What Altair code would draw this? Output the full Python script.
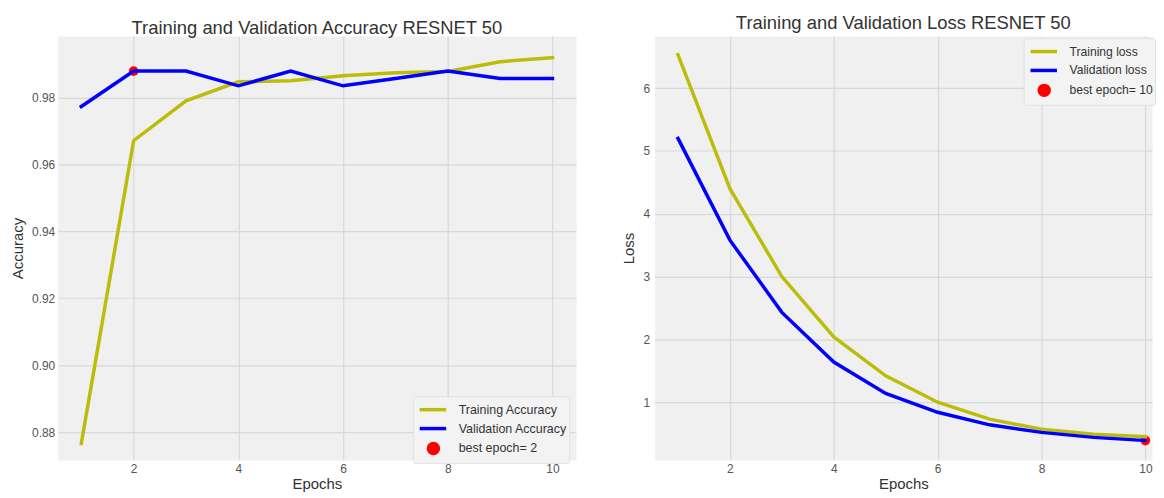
import altair as alt
import pandas as pd

# ---- data ----
epochs = list(range(1, 11))
train_acc = [0.8766, 0.9671, 0.9790, 0.9847, 0.9850, 0.9865, 0.9874, 0.9878, 0.9907, 0.9919]
val_acc = [0.9773, 0.9879, 0.9879, 0.9835, 0.9879, 0.9835, 0.9857, 0.9879, 0.9857, 0.9857]
train_loss = [6.53, 4.40, 3.00, 2.04, 1.42, 1.00, 0.73, 0.57, 0.49, 0.45]
val_loss = [5.20, 3.58, 2.43, 1.64, 1.14, 0.84, 0.64, 0.52, 0.44, 0.39]
best_acc_epoch = 2
best_loss_epoch = 10
acc_labels = ["Training Accuracy", "Validation Accuracy", "best epoch= 2"]
loss_labels = ["Training loss", "Validation loss", "best epoch= 10"]
acc_ticks = [0.88, 0.90, 0.92, 0.94, 0.96, 0.98]
loss_ticks = [1, 2, 3, 4, 5, 6]
epoch_ticks = [2, 4, 6, 8, 10]

YELLOW = "#bcbd0a"
BLUE = "#0000ff"
RED = "#ff0000"
FONT = "Liberation Sans"

LINE_PATH = "M-0.7,0H2.1"
CIRCLE_PATH = "M0.224,0A0.526,0.526,0,1,1,1.276,0A0.526,0.526,0,1,1,0.224,0Z"


def make_df(train, val, best_epoch, labels):
    rows = []
    for e, t, v in zip(epochs, train, val):
        rows.append({"epoch": e, "value": t, "series": labels[0]})
        rows.append({"epoch": e, "value": v, "series": labels[1]})
    rows.append({"epoch": best_epoch, "value": val[best_epoch - 1], "series": labels[2]})
    return pd.DataFrame(rows)


def panel(df, labels, title, ytitle, ydomain, yticks, yfmt, width, height, xmax,
          legx, legy, title_offset, ytitle_pad, ylabel_pad, leg_font):
    best = f"datum.value === '{labels[2]}'"
    tr = f"datum.value === '{labels[0]}'"
    color = alt.Color(
        "series:N",
        scale=alt.Scale(domain=labels, range=[YELLOW, BLUE, RED]),
        legend=alt.Legend(
            title=None,
            orient="none",
            legendX=legx,
            legendY=legy,
            symbolSize=361,
            symbolType={"expr": f"{best} ? '{CIRCLE_PATH}' : '{LINE_PATH}'"},
            symbolFillColor={"expr": f"{best} ? '{RED}' : 'transparent'"},
            symbolStrokeColor={"expr": f"{best} ? 'transparent' : ({tr} ? '{YELLOW}' : '{BLUE}')"},
            symbolStrokeWidth=3.5,
            symbolOpacity=1,
            labelOffset=21,
            rowPadding=0,
            padding=2,
            labelFontSize=leg_font,
            labelFont=FONT,
            labelColor="#333333",
            fillColor="#f3f3f3",
            strokeColor="#e2e2e2",
            cornerRadius=2,
        ),
    )
    x = alt.X(
        "epoch:Q",
        scale=alt.Scale(domain=[0.55, xmax], nice=False, zero=False),
        axis=alt.Axis(values=epoch_ticks, title="Epochs", labelPadding=4, titlePadding=2),
    )
    y = alt.Y(
        "value:Q",
        scale=alt.Scale(domain=ydomain, nice=False, zero=False),
        axis=alt.Axis(values=yticks, format=yfmt, title=ytitle,
                      labelPadding=ylabel_pad, titlePadding=ytitle_pad),
    )
    base = alt.Chart(df)
    pts = base.transform_filter(alt.datum.series == labels[2]).mark_circle(
        size=95, opacity=1
    ).encode(x=x, y=y, color=color)
    lines = base.transform_filter(alt.datum.series != labels[2]).mark_line(
        strokeWidth=3.5, strokeCap="square", clip=True
    ).encode(x=x, y=y, color=color)
    return alt.layer(pts, lines).properties(
        width=width,
        height=height,
        title=alt.TitleParams(title, offset=title_offset, baseline="alphabetic"),
    )


acc_df = make_df(train_acc, val_acc, best_acc_epoch, acc_labels)
loss_df = make_df(train_loss, val_loss, best_loss_epoch, loss_labels)

left = panel(acc_df, acc_labels, "Training and Validation Accuracy RESNET 50", "Accuracy",
             [0.87167, 0.99835], acc_ticks, ".2f", 521, 426, 10.45,
             357, 362, -16.5, 6, 3, 12.5)
right = panel(loss_df, loss_labels, "Training and Validation Loss RESNET 50", "Loss",
              [0.0815, 6.828], loss_ticks, "d", 500, 426, 10.128,
              371, 2, -11.5, 7, 5, 12.2)

chart = (
    alt.HConcatChart(hconcat=[left, right], spacing=79, bounds="flush")
    .resolve_scale(color="independent")
    .properties(padding={"left": 2, "top": 4, "right": 0, "bottom": 0})
    .configure_view(fill="#f0f0f0", stroke="transparent")
    .configure_axis(
        grid=True,
        gridColor="#d8d8d8",
        gridWidth=1.2,
        domain=False,
        ticks=False,
        labelFont=FONT,
        labelFontSize=12,
        labelColor="#555555",
        titleFont=FONT,
        titleFontSize=15,
        titleFontWeight="normal",
        titleColor="#333333",
    )
    .configure_title(font=FONT, fontSize=18.5, fontWeight="normal", color="#333333")
)

chart.save("out.html", embed_options={"renderer": "svg", "actions": False})
